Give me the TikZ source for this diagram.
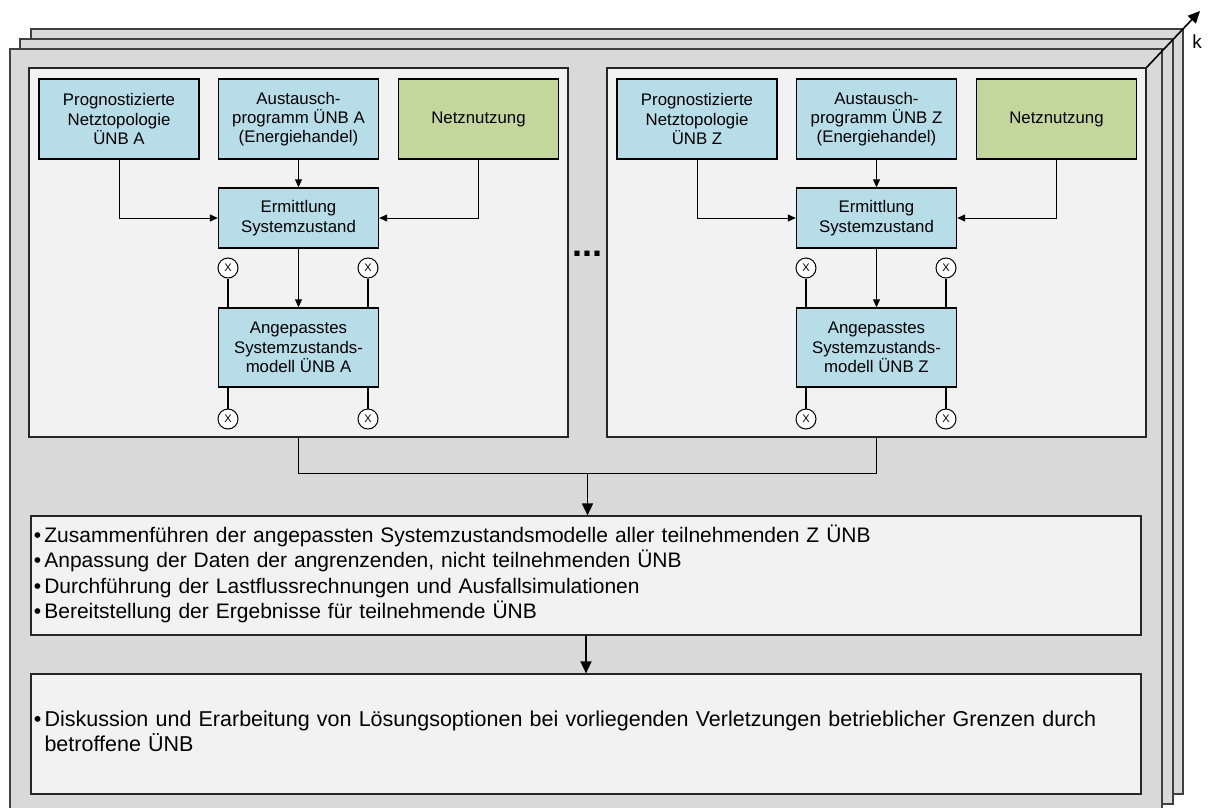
\documentclass[tikz,border=0pt]{standalone}
\usepackage{fontspec}
\setmainfont{Liberation Sans}
\usetikzlibrary{arrows.meta,calc}

\definecolor{boxblue}{HTML}{B7DDE8}
\definecolor{boxgreen}{HTML}{C3D69B}
\definecolor{panelgray}{HTML}{F2F2F2}
\definecolor{pagegray}{HTML}{D9D9D9}

\tikzset{
  page/.style={draw=black!75, line width=1.2pt, fill=pagegray},
  panel/.style={draw=black!85, line width=1.2pt, fill=panelgray, inner sep=0pt,
    minimum width=539pt, minimum height=369pt},
  stepbox/.style={draw=black, line width=1.4pt, fill=boxblue, inner sep=0pt,
    minimum width=160pt, minimum height=80pt, align=center,
    font=\fontsize{16.8}{19.3}\selectfont},
  xcirc/.style={circle, draw=black, line width=1pt, fill=white, inner sep=0pt,
    minimum size=20pt, font=\fontsize{11}{11}\selectfont},
  infobox/.style={draw=black!85, line width=1.2pt, fill=panelgray, inner xsep=3pt,
    inner ysep=0pt, minimum width=1110pt, text width=1104pt, align=left,
    font=\fontsize{21}{25.3}\selectfont},
  link/.style={line width=1.6pt},
  smallarrow/.style={line width=1pt, -{Triangle[length=8pt,width=7pt]}},
  bigarrow/.style={line width=1.6pt, -{Triangle[length=12pt,width=11pt]}},
}

\begin{document}
\begin{tikzpicture}[x=1pt,y=-1pt]
  \clip (0,0) rectangle (1208,807);

  % draw the stacked pages
  \draw[page] (31,29) rectangle (1183,794);
  \draw[page] (20,39) rectangle (1173,804);
  \draw[page] (10,49) rectangle (1162,814);

  % one panel for every participating TSO
  \foreach \tso/\dx in {A/0,Z/578}{
    \begin{scope}[xshift=\dx pt]
      \node[panel] (panel\tso) at (298.5,252.5) {};

      \node[stepbox] (prog\tso) at (119,119) {Prognostizierte\\Netztopologie\\ÜNB \tso};
      \node[stepbox] (aus\tso) at (298.5,119) {Austausch-\\programm ÜNB \tso\\(Energiehandel)};
      \node[stepbox, fill=boxgreen] (netz\tso) at (478.5,119) {Netznutzung};
      \node[stepbox, minimum height=60pt] (erm\tso) at (298.5,218) {Ermittlung\\Systemzustand};
      \node[stepbox, minimum height=79pt] (ang\tso) at (298.5,347.5) {Angepasstes\\Systemzustands-\\modell ÜNB \tso};

      % coupling points
      \node[xcirc] (x\tso1) at (228,268) {X};
      \node[xcirc] (x\tso2) at (368,268) {X};
      \node[xcirc] (x\tso3) at (228,419) {X};
      \node[xcirc] (x\tso4) at (368,419) {X};

      \draw[smallarrow] (prog\tso.south) |- (erm\tso.west);
      \draw[smallarrow] (aus\tso.south) -- (erm\tso.north);
      \draw[smallarrow] (netz\tso.south) |- (erm\tso.east);
      \draw[smallarrow] (erm\tso.south) -- (ang\tso.north);

      \draw[link] (x\tso1.south) -- (x\tso1.south |- ang\tso.north);
      \draw[link] (x\tso2.south) -- (x\tso2.south |- ang\tso.north);
      \draw[link] (x\tso3.north) -- (x\tso3.north |- ang\tso.south);
      \draw[link] (x\tso4.north) -- (x\tso4.north |- ang\tso.south);
    \end{scope}
  }

  % dots between the panels
  \node[font=\fontsize{36}{36}\bfseries\selectfont, inner sep=0pt] (dots) at (587,254) {...};

  % common steps
  \node[infobox, minimum height=119pt] (merge) at (586,575.5) {%
    \begin{tabular}{@{}l@{\hspace{3pt}}l@{}}
      \textbullet & Zusammenführen der angepassten Systemzustandsmodelle aller teilnehmenden Z ÜNB\\
      \textbullet & Anpassung der Daten der angrenzenden, nicht teilnehmenden ÜNB\\
      \textbullet & Durchführung der Lastflussrechnungen und Ausfallsimulationen\\
      \textbullet & Bereitstellung der Ergebnisse für teilnehmende ÜNB
    \end{tabular}};
  \node[infobox, minimum height=120pt, font=\fontsize{21.5}{25.3}\selectfont] (discuss) at (586,734) {%
    \begin{tabular}{@{}l@{\hspace{3pt}}l@{}}
      \textbullet & Diskussion und Erarbeitung von Lösungsoptionen bei vorliegenden Verletzungen betrieblicher Grenzen durch\\
      & betroffene ÜNB
    \end{tabular}};

  % connectors between the stages
  \coordinate (join) at ($(panelA.south)!0.5!(panelZ.south)+(0,36)$);
  \draw[link] (panelA.south) |- (join) -| (panelZ.south);
  \draw[bigarrow] (join) -- (join |- merge.north);
  \draw[bigarrow] (merge.south) -- (discuss.north);

  % time axis k
  \coordinate (ktip) at (1200,11);
  \draw[bigarrow] (panelZ.north east) -- (ktip);
  \node[font=\fontsize{19}{19}\selectfont] (klab) at (1197,42) {k};
\end{tikzpicture}
\end{document}
